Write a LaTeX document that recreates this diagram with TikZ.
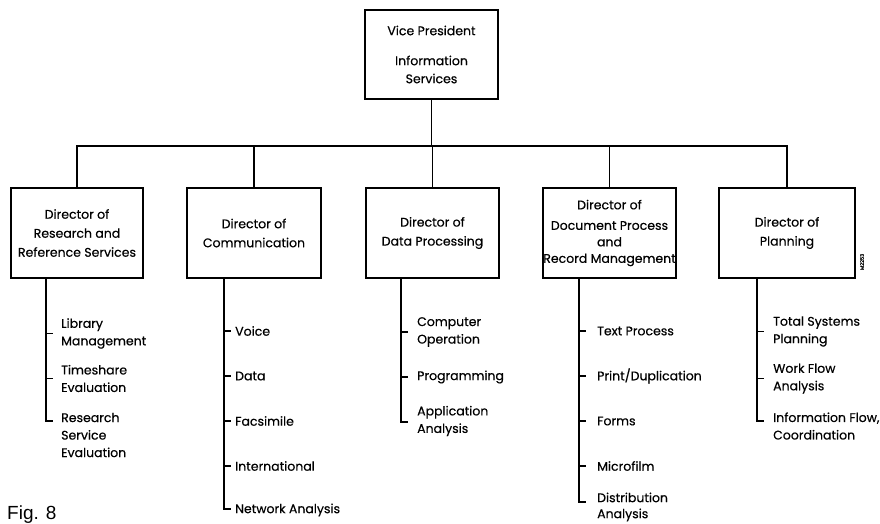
\documentclass[tikz,border=0pt]{standalone}
\usepackage{fontspec}
\setmainfont{Poppins}[FakeBold=0.4]
\newfontfamily\figfont{Liberation Sans}
\begin{document}
\begin{tikzpicture}[x=1pt,y=-1pt,
  box/.style={draw, line width=1.9pt, align=center, inner sep=0pt, minimum height=90pt, font=\fontsize{12.5}{19}\selectfont},
  conn/.style={line width=1.7pt},
  item/.style={anchor=west, align=left, inner sep=0pt, font=\fontsize{12.5}{17.5}\selectfont}
]
\useasboundingbox[fill=white] (0,0) rectangle (880,523);

% top box
\node[box, minimum width=133pt, minimum height=89pt, font=\fontsize{12.5}{18}\selectfont] (vp) at (431.5,54.5) {Vice President\\[12pt]Information\\Services};

% director boxes
\node[box, minimum width=132pt] (d1) at (77,233) {Director of\\Research and\\Reference Services};
\node[box, minimum width=134pt] (d2) at (254,233) {Director of\\Communication};
\node[box, minimum width=133pt] (d3) at (432.5,233) {Director of\\Data Processing};
\node[box, minimum width=133pt, font=\fontsize{12.5}{16.5}\selectfont] (d4) at (609.5,233) {Director of\\[4pt]Document Process\\and\\Record Management};
\node[box, minimum width=136pt] (d5) at (787,233) {Director of\\Planning};

% bus
\coordinate (bus) at (0,146);
\draw[conn] (vp.south) -- (vp.south |- bus);
\draw[conn] (d1.north) -- (d1.north |- bus) -- (d5.north |- bus) -- (d5.north);
\draw[conn] (d2.north) -- (d2.north |- bus);
\draw[conn] (d3.north) -- (d3.north |- bus);
\draw[conn] (d4.north) -- (d4.north |- bus);

% list 1
\coordinate (k1) at (46,421);
\node[item] (i11) at (61,333.5) {Library\\Management};
\node[item] (i12) at (61,378.5) {Timeshare\\Evaluation};
\node[item] (i13) at (61,435) {Research\\Service\\Evaluation};
\draw[conn] (d1.south -| k1) -- (k1) -- ++(7,0);
\draw[conn] (i11.west -| k1) -- ++(7,0);
\draw[conn] (i12.west -| k1) -- ++(7,0);

% list 2
\coordinate (k2) at (224,509);
\node[item] (i21) at (235,331) {Voice};
\node[item] (i22) at (235,376) {Data};
\node[item] (i23) at (235,421) {Facsimile};
\node[item] (i24) at (235,466) {International};
\node[item] (i25) at (235,510) {Network Analysis};
\draw[conn] (d2.south -| k2) -- (k2) -- ++(7,0);
\draw[conn] (i21.west -| k2) -- ++(7,0);
\draw[conn] (i22.west -| k2) -- ++(7,0);
\draw[conn] (i23.west -| k2) -- ++(7,0);
\draw[conn] (i24.west -| k2) -- ++(7,0);

% list 3
\coordinate (k3) at (401,422);
\node[item] (i31) at (417,332) {Computer\\Operation};
\node[item] (i32) at (417,377) {Programming};
\node[item] (i33) at (417,421) {Application\\Analysis};
\draw[conn] (d3.south -| k3) -- (k3) -- ++(7,0);
\draw[conn] (i31.west -| k3) -- ++(7,0);
\draw[conn] (i32.west -| k3) -- ++(7,0);

% list 4
\coordinate (k4) at (579,502);
\node[item] (i41) at (597,331) {Text Process};
\node[item] (i42) at (597,376) {Print/Duplication};
\node[item] (i43) at (597,421) {Forms};
\node[item] (i44) at (597,466) {Microfilm};
\node[item, font=\fontsize{12.5}{16}\selectfont] (i45) at (597,507) {Distribution\\Analysis};
\draw[conn] (d4.south -| k4) -- (k4) -- ++(7,0);
\draw[conn] (i41.west -| k4) -- ++(7,0);
\draw[conn] (i42.west -| k4) -- ++(7,0);
\draw[conn] (i43.west -| k4) -- ++(7,0);
\draw[conn] (i44.west -| k4) -- ++(7,0);

% list 5
\coordinate (k5) at (757,421);
\node[item] (i51) at (773,331.5) {Total Systems\\Planning};
\node[item] (i52) at (773,378.5) {Work Flow\\Analysis};
\node[item] (i53) at (773,426) {Information Flow,\\Coordination};
\draw[conn] (d5.south -| k5) -- (k5) -- ++(7,0);
\draw[conn] (i51.west -| k5) -- ++(7,0);
\draw[conn] (i52.west -| k5) -- ++(7,0);

% caption and code
\node[anchor=base west, inner sep=0pt, font=\figfont\fontsize{19}{19}\selectfont] (fig) at (7,519) {Fig. 8};
\node[rotate=90, inner sep=0pt, font=\fontsize{5}{5}\selectfont] (code) at (862,262) {M2253};
\end{tikzpicture}
\end{document}
